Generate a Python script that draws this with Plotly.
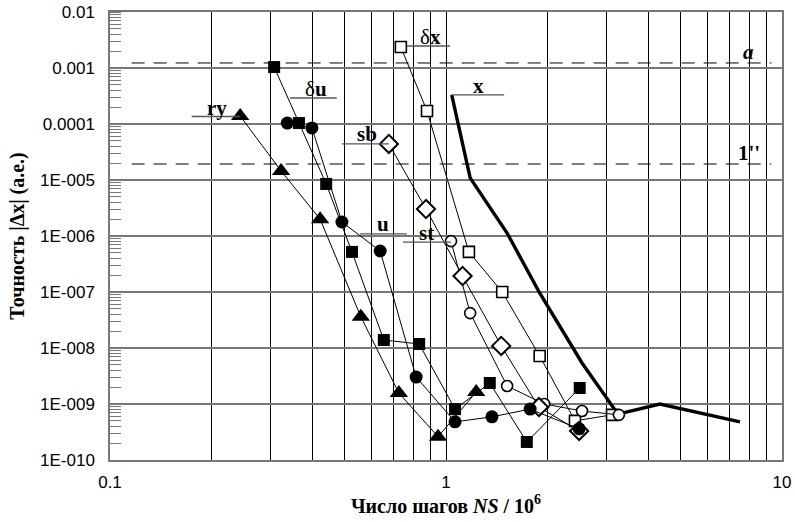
import math
import plotly.graph_objects as go

# ---- data (NS/1e6 , |dx|) ----
ry_x = [0.244, 0.323, 0.422, 0.558, 0.724, 0.947, 1.23]
ry_y = [1.39e-4, 1.45e-5, 2.0e-6, 3.6e-8, 1.57e-9, 2.6e-10, 1.64e-9]

du_x = [0.308, 0.365, 0.440, 0.525, 0.653, 0.832, 1.064, 1.35, 1.74, 2.5]
du_y = [1.04e-3, 1.04e-4, 8.5e-6, 5.2e-7, 1.39e-8, 1.18e-8, 8.1e-10, 2.37e-9, 2.1e-10, 1.93e-9]

u_x = [0.337, 0.399, 0.49, 0.637, 0.815, 1.064, 1.37, 1.78, 2.49]
u_y = [1.04e-4, 8.5e-5, 1.78e-6, 5.4e-7, 3.03e-9, 4.8e-10, 5.9e-10, 8.1e-10, 3.6e-10]

sb_x = [0.676, 0.872, 1.12, 1.46, 1.89, 2.49]
sb_y = [4.4e-5, 3.03e-6, 1.93e-7, 1.09e-8, 8.8e-10, 3.3e-10]

st_x = [1.035, 1.18, 1.52, 1.96, 2.54, 3.27]
st_y = [8.1e-7, 4.2e-8, 2.1e-9, 1.0e-9, 7.5e-10, 6.4e-10]

dx_x = [0.734, 0.878, 1.17, 1.47, 1.90, 2.42, 3.12]
dx_y = [2.37e-3, 1.71e-4, 5.2e-7, 1.0e-7, 7.2e-9, 5.0e-10, 6.4e-10]

x_x = [1.04, 1.18, 1.52, 1.90, 2.54, 3.25, 4.33, 7.5]
x_y = [3.3e-4, 1.09e-5, 1.13e-6, 9.6e-8, 5.4e-9, 6.6e-10, 1.0e-9, 4.8e-10]

# reference levels
level_a = 1.23e-3
level_arcsec = 1.93e-5
level_x_range = [0.116, 9.3]

y_tickvals = [1e-10, 1e-9, 1e-8, 1e-7, 1e-6, 1e-5, 1e-4, 1e-3, 1e-2]
y_ticktext = ["1E-010", "1E-009", "1E-008", "1E-007", "1E-006", "1E-005", "0.0001", "0.001", "0.01"]
x_tickvals = [0.1, 1, 10]
x_ticktext = ["0.1", "1", "10"]

# series labels: text, text position, leader line (x0, x1, y)
labels = [
    ("<b>ry</b>", 0.208, 1.93e-4, 0.175, 0.244, 1.36e-4),
    ("δ<b>u</b>", 0.410, 4.2e-4, 0.343, 0.473, 2.91e-4),
    ("<b>sb</b>", 0.583, 6.6e-5, 0.490, 0.676, 4.4e-5),
    ("<b>u</b>", 0.649, 1.64e-6, 0.555, 0.765, 1.09e-6),
    ("<b>st</b>", 0.872, 1.13e-6, 0.745, 1.035, 7.8e-7),
    ("δ<b>x</b>", 0.902, 3.58e-3, 0.766, 1.028, 2.47e-3),
    ("<b>x</b>", 1.25, 4.77e-4, 1.04, 1.49, 3.3e-4),
]
level_labels = [("<b><i>a</i></b>", 7.93, 1.93e-3), ("<b>1''</b>", 8.0, 3.0e-5)]

fig = go.Figure()

def add_series(xs, ys, symbol, size, fill, lw=1.0, mlw=0):
    fig.add_trace(go.Scatter(
        x=xs, y=ys, mode="lines+markers",
        line=dict(color="black", width=lw),
        marker=dict(symbol=symbol, size=size, color=fill,
                    line=dict(color="black", width=mlw)),
        showlegend=False, cliponaxis=False))

fig.add_trace(go.Scatter(x=x_x, y=x_y, mode="lines",
                         line=dict(color="black", width=3.4), showlegend=False))
add_series(dx_x, dx_y, "square", 11, "white", mlw=1.6)
add_series(st_x, st_y, "circle", 11, "white", mlw=1.6)
add_series(sb_x, sb_y, "diamond", 14, "white", mlw=2)
add_series(u_x, u_y, "circle", 13, "black")
add_series(du_x, du_y, "square", 12, "black")
add_series(ry_x, ry_y, "triangle-up", 16, "black")

for lv in (level_a, level_arcsec):
    fig.add_shape(type="line", x0=level_x_range[0], x1=level_x_range[1], y0=lv, y1=lv,
                  xref="x", yref="y", line=dict(color="black", width=1, dash="13px,9px"),
                  layer="below")

for txt, tx, ty, lx0, lx1, ly in labels:
    fig.add_shape(type="line", x0=lx0, x1=lx1, y0=ly, y1=ly, xref="x", yref="y",
                  line=dict(color="#555", width=1.3))
    fig.add_annotation(x=math.log10(tx), y=math.log10(ty),
                       text=txt, showarrow=False,
                       font=dict(family="Liberation Serif", size=21, color="black"))
for txt, tx, ty in level_labels:
    fig.add_annotation(x=math.log10(tx), y=math.log10(ty),
                       text=txt, showarrow=False,
                       font=dict(family="Liberation Serif", size=21, color="black"))

fig.update_xaxes(type="log", range=[-1, 1], tickmode="array", tickvals=x_tickvals,
                 ticktext=x_ticktext, showgrid=True, gridcolor="black", gridwidth=1,
                 minor=dict(dtick="D1", showgrid=True, gridcolor="black", gridwidth=1, ticks=""),
                 showline=True, linecolor="#777", linewidth=1.5, mirror=True, ticks="",
                 tickfont=dict(family="Liberation Sans", size=17, color="black"),
                 zeroline=False, automargin=False, ticklabelstandoff=6,
                 title=dict(text="<b>Число шагов <i>NS</i> / 10<sup>6</sup></b>",
                            font=dict(family="Liberation Serif", size=20, color="black"),
                            standoff=2))
fig.update_yaxes(type="log", range=[-10, -2], tickmode="array", tickvals=y_tickvals,
                 ticktext=y_ticktext, showgrid=True, gridcolor="#777", gridwidth=1.5,
                 minor=dict(dtick="D1", ticks="inside", ticklen=11, tickcolor="#777",
                            tickwidth=1, showgrid=False),
                 showline=True, linecolor="#777", linewidth=1.5, mirror=True, ticks="",
                 ticklabelstandoff=10, automargin=False,
                 tickfont=dict(family="Liberation Sans", size=17, color="black"),
                 zeroline=False,
                 title=dict(text="<b>Точность |Δx| (а.е.)</b>",
                            font=dict(family="Liberation Serif", size=20, color="black"),
                            standoff=10))

fig.update_layout(width=795, height=522, margin=dict(l=110, r=13, t=12, b=62),
                  plot_bgcolor="white", paper_bgcolor="white")

fig.write_html("out.html")
